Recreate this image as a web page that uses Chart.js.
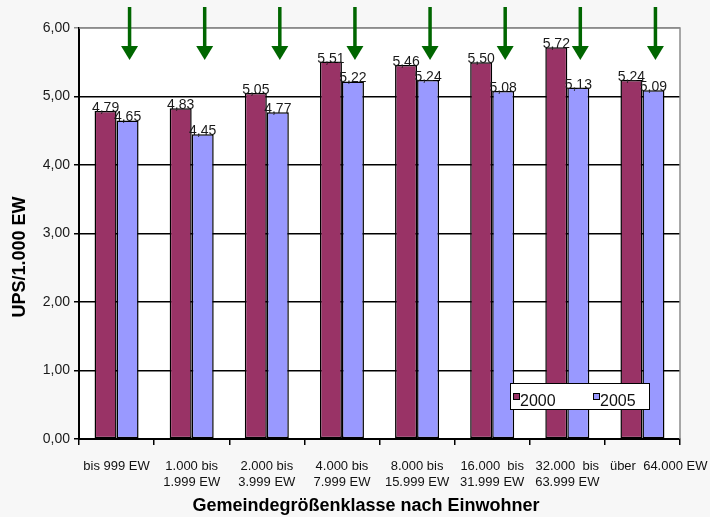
<!DOCTYPE html>
<html>
<head>
<meta charset="utf-8">
<script src="https://cdn.jsdelivr.net/npm/chart.js@4"></script>
<style>
  html, body { margin: 0; padding: 0; background: #f7f7f7; }
  canvas { display: block; }
</style>
</head>
<body>
<canvas id="c" width="710" height="517"></canvas>
<script>
// Einwohnergrößenklassen der Gemeinden
const categories = [
  ['bis 999 EW'],
  ['1.000 bis', '1.999 EW'],
  ['2.000 bis', '3.999 EW'],
  ['4.000 bis', '7.999 EW'],
  ['8.000 bis', '15.999 EW'],
  ['16.000  bis', '31.999 EW'],
  ['32.000  bis', '63.999 EW'],
  ['         über  64.000 EW']
];
const seriesNames = ['2000', '2005'];
const values2000 = [4.79, 4.83, 5.05, 5.51, 5.46, 5.50, 5.72, 5.24];
const values2005 = [4.65, 4.45, 4.77, 5.22, 5.24, 5.08, 5.13, 5.09];
const yTicks = [0, 1, 2, 3, 4, 5, 6];
const yTitle = 'UPS/1.000 EW';
const xTitle = 'Gemeindegrößenklasse nach Einwohner';

const fmt = v => v.toFixed(2).replace('.', ',');
const FONT = '"Liberation Sans", Arial, sans-serif';

// Hintergrund, weiße Zeichenfläche, grauer Rahmen oben/rechts
const backdrop = {
  id: 'backdrop',
  beforeDraw(chart) {
    const { ctx, chartArea: a } = chart;
    ctx.save();
    ctx.fillStyle = '#f7f7f7';
    ctx.fillRect(0, 0, chart.width, chart.height);
    ctx.fillStyle = '#ffffff';
    ctx.fillRect(a.left, a.top, a.right - a.left, a.bottom - a.top);
    ctx.restore();
  },
  afterDatasetsDraw(chart) {
    const { ctx, chartArea: a } = chart;
    ctx.save();
    ctx.strokeStyle = '#8c8c8c';
    ctx.lineWidth = 1.5;
    ctx.beginPath();
    ctx.moveTo(a.left, a.top);
    ctx.lineTo(a.right, a.top);
    ctx.lineTo(a.right, a.bottom);
    ctx.stroke();
    ctx.restore();
  }
};

// Wertebeschriftungen über den Säulen
const valueLabels = {
  id: 'valueLabels',
  afterDatasetsDraw(chart) {
    const { ctx } = chart;
    ctx.save();
    ctx.font = '14px ' + FONT;
    ctx.fillStyle = '#1a1a1a';
    ctx.textAlign = 'center';
    ctx.textBaseline = 'alphabetic';
    chart.data.datasets.forEach((ds, di) => {
      chart.getDatasetMeta(di).data.forEach((bar, i) => {
        ctx.fillText(fmt(ds.data[i]), bar.x, bar.y + 1);
      });
    });
    ctx.restore();
  }
};

// Grüne Pfeile über jeder Größenklasse
const arrows = {
  id: 'arrows',
  afterDraw(chart) {
    const { ctx, chartArea: a } = chart;
    const xs = chart.scales.x;
    ctx.save();
    ctx.fillStyle = '#006600';
    ctx.strokeStyle = '#006600';
    ctx.lineWidth = 3.5;
    categories.forEach((_, i) => {
      const x = xs.getPixelForValue(i) + 13;
      const top = a.top - 21, base = a.top + 18, tip = a.top + 32;
      ctx.beginPath();
      ctx.moveTo(x, top);
      ctx.lineTo(x, base + 1);
      ctx.stroke();
      ctx.beginPath();
      ctx.moveTo(x - 8.5, base);
      ctx.lineTo(x + 8.5, base);
      ctx.lineTo(x, tip);
      ctx.closePath();
      ctx.fill();
    });
    ctx.restore();
  }
};

// Legende unten rechts in der Zeichenfläche
const boxLegend = {
  id: 'boxLegend',
  afterDraw(chart) {
    const { ctx, chartArea: a } = chart;
    const left = a.right - 170, top = a.bottom - 56, w = 139, h = 26;
    ctx.save();
    ctx.fillStyle = '#ffffff';
    ctx.fillRect(left, top, w, h);
    ctx.strokeStyle = '#000000';
    ctx.lineWidth = 1;
    ctx.strokeRect(left + 0.5, top + 0.5, w, h);
    ctx.font = '16px ' + FONT;
    ctx.textAlign = 'left';
    ctx.textBaseline = 'alphabetic';
    chart.data.datasets.forEach((ds, i) => {
      const x = left + 3 + i * 80;
      ctx.fillStyle = ds.backgroundColor;
      ctx.fillRect(x, top + 10, 6, 6);
      ctx.strokeRect(x + 0.5, top + 10.5, 6, 6);
      ctx.fillStyle = '#111111';
      ctx.fillText(ds.label, x + 7, top + 23);
    });
    ctx.restore();
  }
};

// Achsentitel
const axisTitles = {
  id: 'axisTitles',
  afterDraw(chart) {
    const { ctx } = chart;
    ctx.save();
    ctx.font = 'bold 18px ' + FONT;
    ctx.fillStyle = '#000000';
    ctx.textAlign = 'center';
    ctx.textBaseline = 'middle';
    ctx.fillText(xTitle, 366, 506);
    ctx.translate(20, 257);
    ctx.rotate(-Math.PI / 2);
    ctx.fillText(yTitle, 0, 0);
    ctx.restore();
  }
};

new Chart(document.getElementById('c'), {
  type: 'bar',
  data: {
    labels: categories,
    datasets: [
      { label: seriesNames[0], data: values2000, backgroundColor: '#993366',
        borderColor: '#000000', borderWidth: 1.5, borderSkipped: false },
      { label: seriesNames[1], data: values2005, backgroundColor: '#9999ff',
        borderColor: '#000000', borderWidth: 1.5, borderSkipped: false }
    ]
  },
  options: {
    responsive: false,
    animation: false,
    layout: { padding: { top: 28, right: 30, left: 0, bottom: 0 } },
    datasets: { bar: { categoryPercentage: 0.586, barPercentage: 1.0 } },
    plugins: {
      legend: { display: false },
      tooltip: { enabled: false }
    },
    scales: {
      x: {
        offset: true,
        grid: { display: true, drawOnChartArea: false, drawTicks: true, tickLength: 6,
                color: '#000000', lineWidth: 1.5, offset: true },
        border: { display: true, color: '#000000', width: 2 },
        ticks: { font: { family: FONT, size: 13 }, color: '#111111', padding: 14,
                 maxRotation: 0, minRotation: 0, autoSkip: false },
        afterFit(s) { s.height = 78; s.paddingLeft = 0; s.paddingRight = 0; }
      },
      y: {
        min: 0, max: 6,
        afterBuildTicks(s) { s.ticks = yTicks.map(v => ({ value: v })); },
        grid: { color: ctx => (ctx.tick && ctx.tick.value === 6 ? '#8c8c8c' : '#000000'),
                lineWidth: 1.5, tickLength: 5 },
        border: { display: true, color: '#000000', width: 2 },
        ticks: { font: { family: FONT, size: 14 }, color: '#1a1a1a', padding: 4,
                 callback: v => fmt(v) },
        afterFit(s) { s.width = 79; s.paddingTop = 0; s.paddingBottom = 0; }
      }
    }
  },
  plugins: [backdrop, valueLabels, arrows, boxLegend, axisTitles]
});
</script>
</body>
</html>
